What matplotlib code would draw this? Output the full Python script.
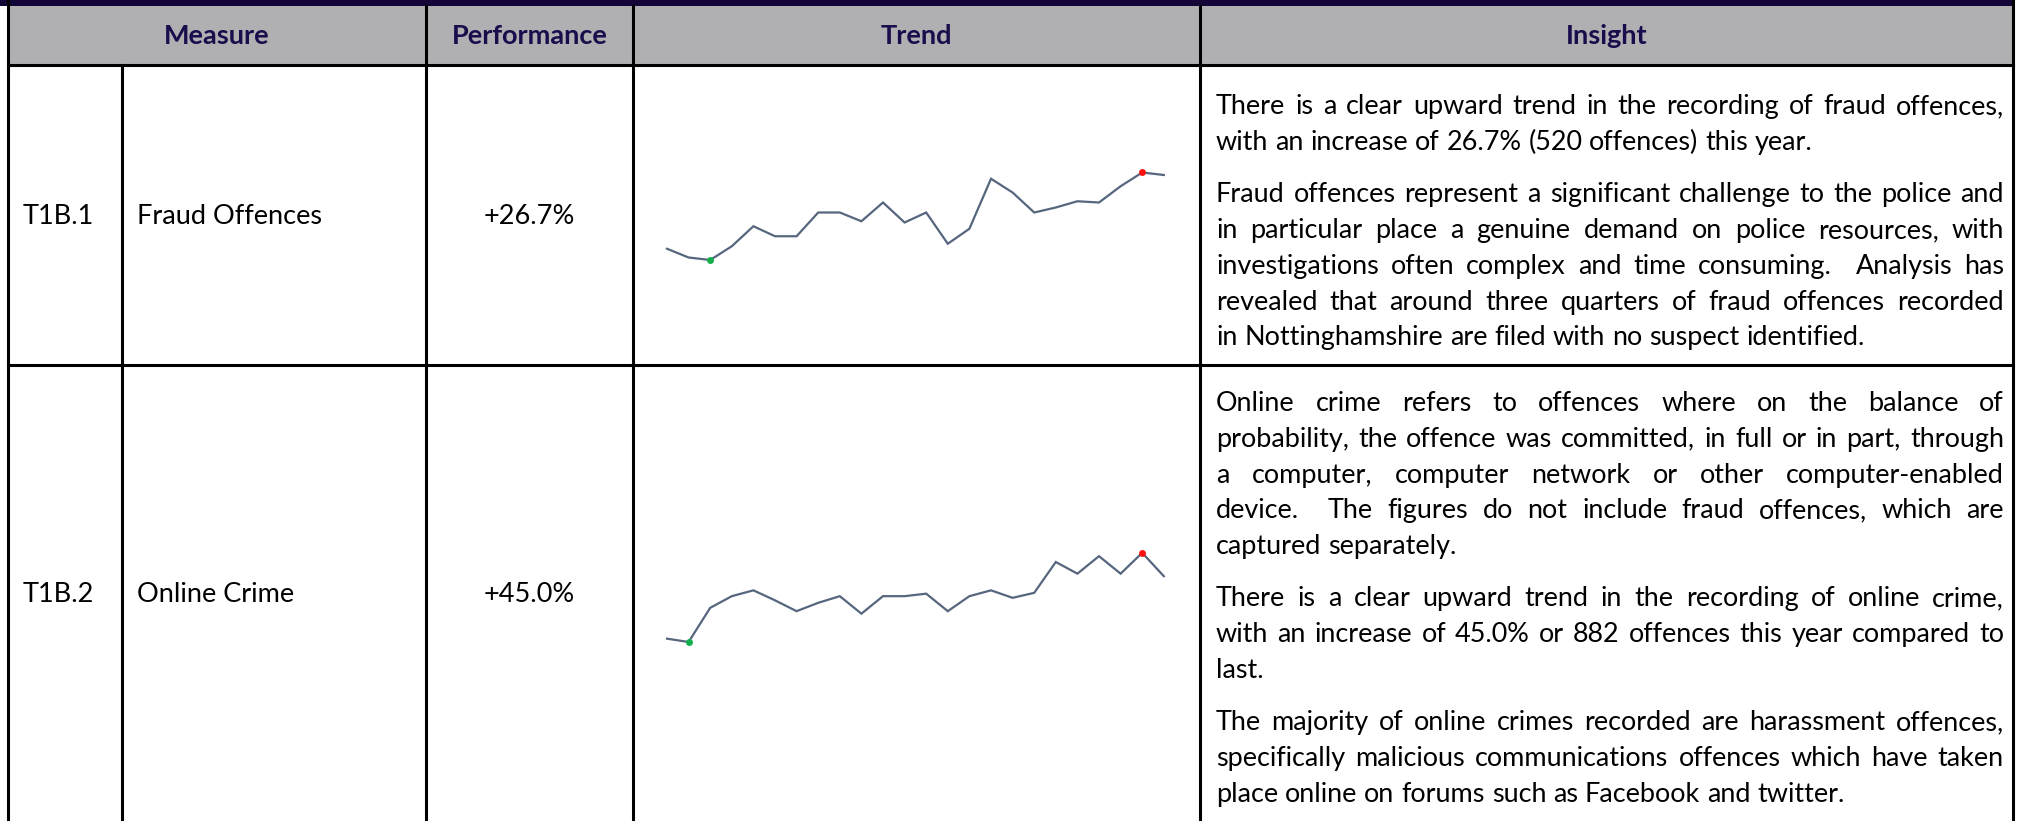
import matplotlib
matplotlib.use("Agg")
import matplotlib.pyplot as plt
import numpy as np
from matplotlib.patches import Rectangle

# ---------------- data ----------------
headers = ["Measure", "Performance", "Trend", "Insight"]
measure_ids = ["T1B.1", "T1B.2"]
measure_names = ["Fraud Offences", "Online Crime"]
performance = ["+26.7%", "+45.0%"]

fraud_monthly = [159, 152, 150, 161, 177, 169, 169, 188, 188, 181, 196, 180,
                 188, 163, 175, 215, 204, 188, 192, 197, 196, 209, 220, 218]
online_monthly = [144, 140, 181, 195, 202, 190, 177, 187, 195, 174, 195, 195,
                  198, 177, 195, 202, 193, 199, 236, 222, 243, 222, 247, 219]

insight_fraud = [
    ["There is a clear upward trend in the recording of fraud offences,",
     "with an increase of 26.7% (520 offences) this year."],
    ["Fraud offences represent a significant challenge to the police and",
     "in particular place a genuine demand on police resources, with",
     "investigations often complex and time consuming.  Analysis has",
     "revealed that around three quarters of fraud offences recorded",
     "in Nottinghamshire are filed with no suspect identified."],
]
insight_online = [
    ["Online crime refers to offences where on the balance of",
     "probability, the offence was committed, in full or in part, through",
     "a computer, computer network or other computer-enabled",
     "device.  The figures do not include fraud offences, which are",
     "captured separately."],
    ["There is a clear upward trend in the recording of online crime,",
     "with an increase of 45.0% or 882 offences this year compared to",
     "last."],
    ["The majority of online crimes recorded are harassment offences,",
     "specifically malicious communications offences which have taken",
     "place online on forums such as Facebook and twitter."],
]

# ---------------- layout ----------------
W, H = 2022, 821
X = [8, 122, 426, 633, 1200, 2013]       # column borders
TOPBAR = 6
HDR_BOT = 65
ROW_SEP = 365
LW = 2.2
FONT = "Lato"
HDR_COLOR = "#1b0c4c"
BAR_COLOR = "#140538"
GREY = "#b0b0b2"
LINE_COLOR = "#56667e"

fig = plt.figure(figsize=(W / 100, H / 100), dpi=100)
ax = fig.add_axes([0, 0, 1, 1])
ax.set_xlim(0, W)
ax.set_ylim(H, 0)
ax.axis("off")

# header background
ax.add_patch(Rectangle((0, 0), X[5] + 2, TOPBAR, color=BAR_COLOR, lw=0))
ax.add_patch(Rectangle((X[0], TOPBAR), X[5] - X[0], HDR_BOT - TOPBAR, color=GREY, lw=0))

# grid lines
for y in (HDR_BOT, ROW_SEP):
    ax.plot([X[0], X[5]], [y, y], color="black", lw=LW, solid_capstyle="projecting")
for x in (X[0], X[5]):
    ax.plot([x, x], [0, H], color="black", lw=LW)
for x in (X[2], X[3], X[4]):
    ax.plot([x, x], [TOPBAR, H], color="black", lw=LW)
ax.plot([X[1], X[1]], [HDR_BOT, H], color="black", lw=LW)

# header text
hdr_centers = [(X[0] + X[2]) / 2, (X[2] + X[3]) / 2, (X[3] + X[4]) / 2, (X[4] + X[5]) / 2]
for txt, cx in zip(headers, hdr_centers):
    ax.text(cx, (TOPBAR + HDR_BOT) / 2 + 1, txt, ha="center", va="center",
            fontsize=19.5, fontweight="bold", color=HDR_COLOR, family=FONT)

# cell text
CELL_FS = 19.5
for i, (r0, r1) in enumerate([(HDR_BOT, ROW_SEP), (ROW_SEP, 821)]):
    cy = (r0 + r1) / 2 + 9
    ax.text(23, cy, measure_ids[i], ha="left", va="baseline", fontsize=CELL_FS, family=FONT)
    ax.text(137, cy, measure_names[i], ha="left", va="baseline", fontsize=CELL_FS, family=FONT)
    ax.text((X[2] + X[3]) / 2, cy, performance[i], ha="center", va="baseline",
            fontsize=CELL_FS, family=FONT)

# ---------------- justified insight text ----------------
renderer = fig.canvas.get_renderer()


def text_w(s, size):
    if s == "":
        return 0.0
    t = ax.text(0, 0, s, fontsize=size, family=FONT)
    w = t.get_window_extent(renderer).width
    t.remove()
    return w


TX0, TX1 = 1216, 2004
INS_FS = 18.5
all_pars = insight_fraud + insight_online
# size the font so the widest justified line nearly fills the column
worst = 0
for par in all_pars:
    for line in par[:-1]:
        worst = max(worst, text_w(line, INS_FS) / (TX1 - TX0))
INS_FS = INS_FS / worst * 0.985

space_w = text_w("a a", INS_FS) - 2 * text_w("a", INS_FS)
LINE_H = 35.8
PAR_GAP = 16.5


def draw_par(par, y):
    for li, line in enumerate(par):
        words = line.split(" ")
        widths = [text_w(w, INS_FS) for w in words]
        last = li == len(par) - 1
        if last or len(words) == 1:
            gap = space_w
        else:
            gap = (TX1 - TX0 - sum(widths)) / (len(words) - 1)
        x = TX0
        for w, wd in zip(words, widths):
            if w:
                ax.text(x, y, w, ha="left", va="baseline", fontsize=INS_FS, family=FONT)
            x += wd + gap
        y += LINE_H
    return y


y = 105 + 9
for par in insight_fraud:
    y = draw_par(par, y) + PAR_GAP
y = 402 + 9
for par in insight_online:
    y = draw_par(par, y) + PAR_GAP

# ---------------- sparklines ----------------
SPARK_X0, SPARK_DX = 667, 21.6
# (pixel y of reference value, reference value, value per pixel)
SPARK_MAP = [(260, 150, 0.8), (642, 140, 1.2)]
series = [fraud_monthly, online_monthly]
cell_rows = [(HDR_BOT, ROW_SEP), (ROW_SEP, H)]
for vals, (py, pv, k), (r0, r1) in zip(series, SPARK_MAP, cell_rows):
    sax = fig.add_axes([X[3] / W, 1 - r1 / H, (X[4] - X[3]) / W, (r1 - r0) / H])
    sax.axis("off")
    sax.set_xlim((X[3] - SPARK_X0) / SPARK_DX, (X[4] - SPARK_X0) / SPARK_DX)
    sax.set_ylim(pv + (py - r1) * k, pv + (py - r0) * k)
    xs = np.arange(len(vals))
    v = np.array(vals)
    sax.plot(xs, v, color=LINE_COLOR, lw=1.6, solid_joinstyle="miter")
    lo, hi = int(np.argmin(v)), int(np.argmax(v))
    sax.plot([lo], [v[lo]], "o", color="#12b04a", ms=5, mew=0)
    sax.plot([hi], [v[hi]], "o", color="#ff1010", ms=5, mew=0)

fig.savefig("out.png", dpi=100, facecolor="white")
